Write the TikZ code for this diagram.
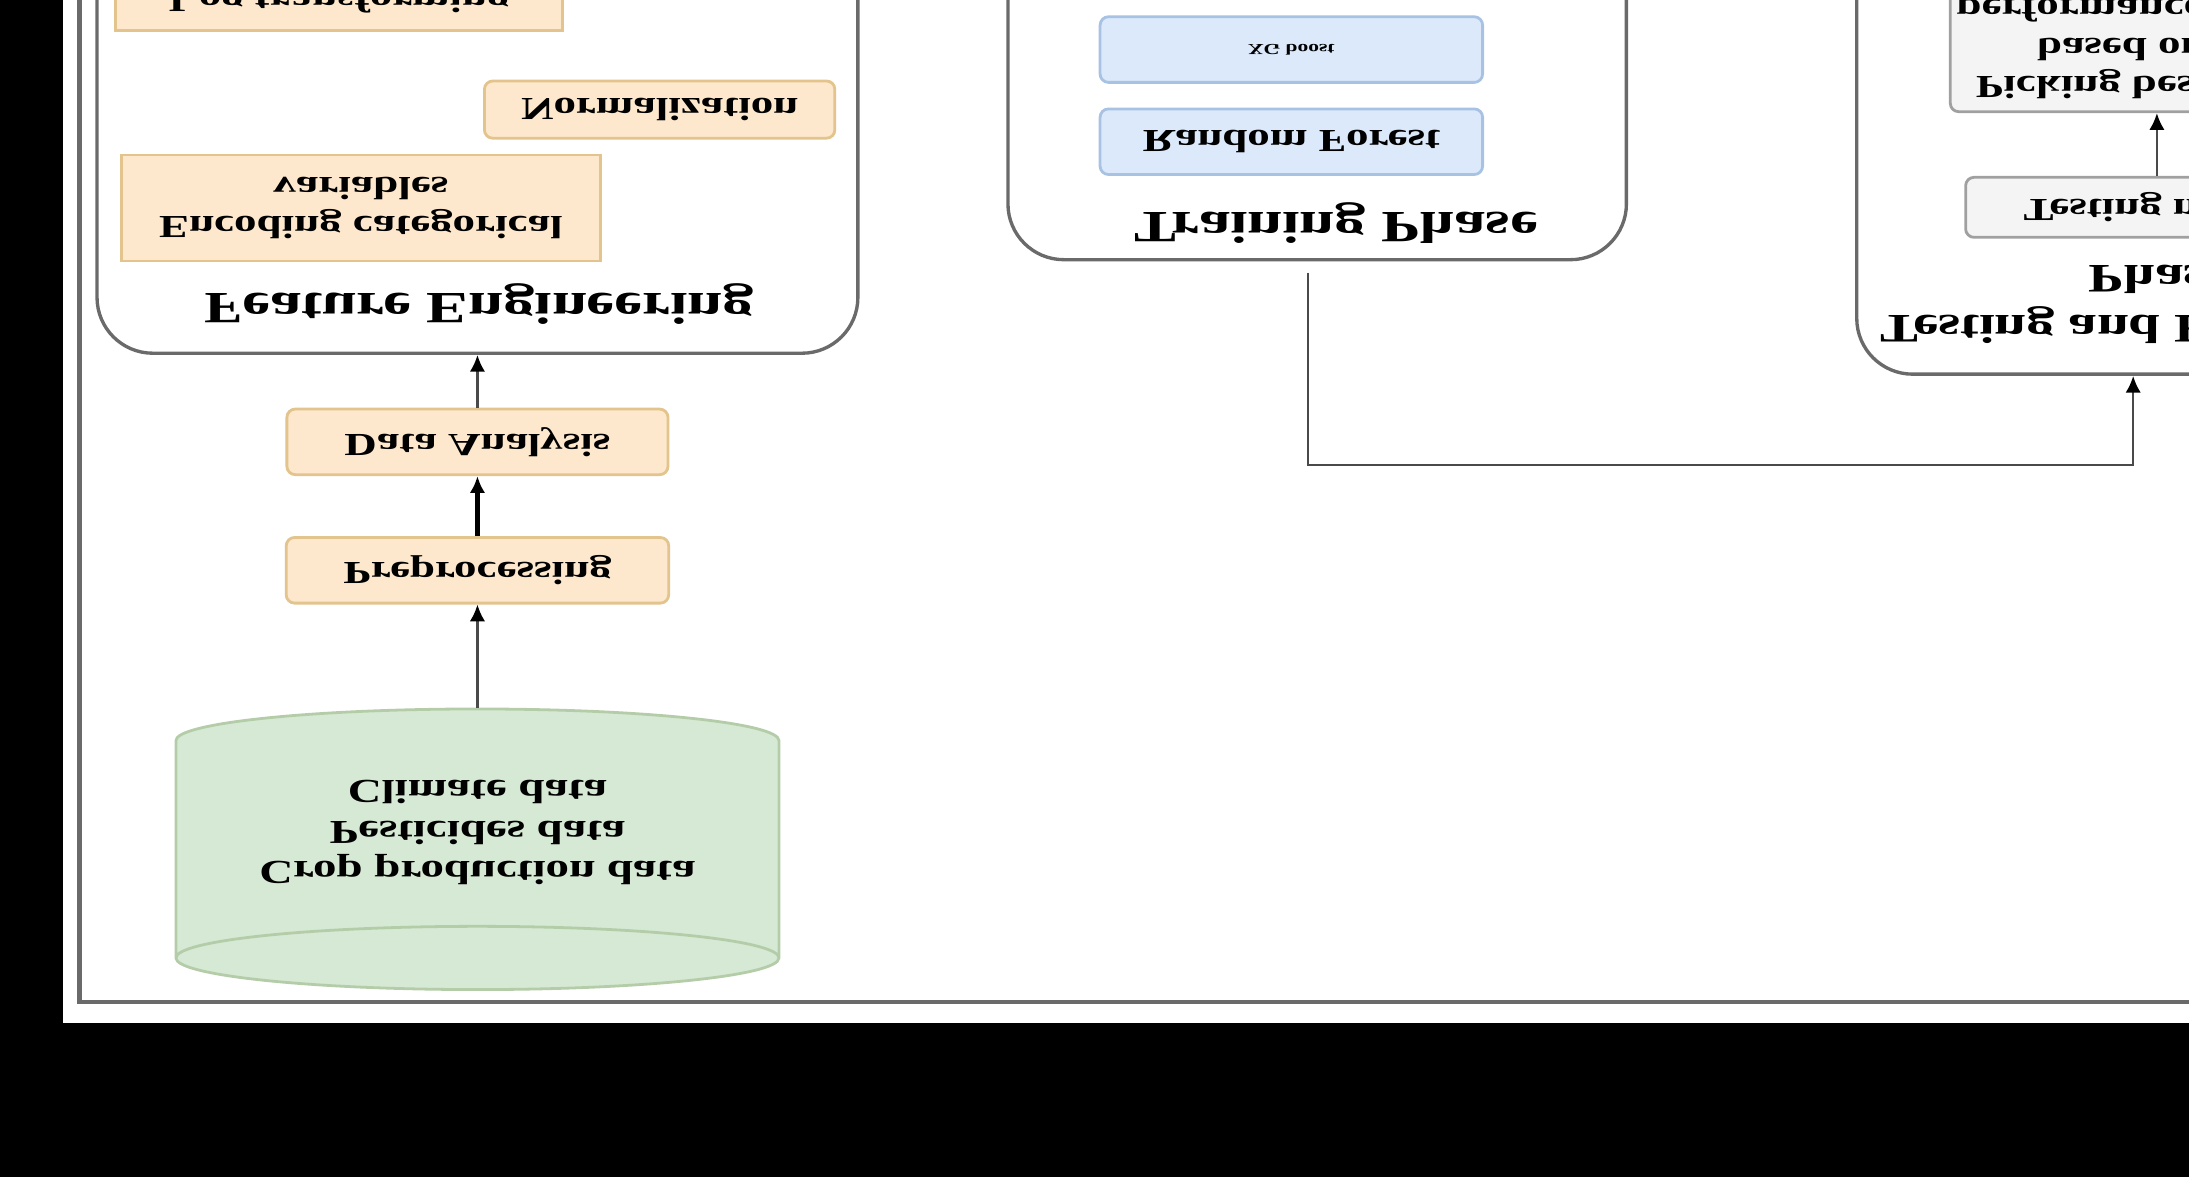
\documentclass[tikz,border=0pt]{standalone}
\usepackage{fontspec}
\setmainfont{Liberation Serif}[FakeStretch=1.4]
\usetikzlibrary{shapes.geometric,arrows.meta}
\definecolor{stagefill}{HTML}{FDE8CD}
\definecolor{stageline}{HTML}{E2C48C}
\definecolor{modelfill}{HTML}{DBE9FB}
\definecolor{modelline}{HTML}{A8C2E4}
\definecolor{datafill}{HTML}{D6E9D4}
\definecolor{dataline}{HTML}{B4CDA8}
\definecolor{evalfill}{HTML}{F4F4F4}
\definecolor{evalline}{HTML}{A0A0A0}
\definecolor{phaseline}{HTML}{6A6A6A}
\definecolor{flowline}{HTML}{4A4A4A}
\tikzset{
  stage/.style   = {shape=rectangle, rounded corners=3pt,
                    draw=stageline, fill=stagefill, line width=1pt,
                    align=center, inner sep=0pt,
                    font=\fontsize{11.5}{13.8}\selectfont\bfseries},
  stagesq/.style = {stage, sharp corners},
  model/.style   = {stage, draw=modelline, fill=modelfill},
  evalbox/.style = {stage, draw=evalline, fill=evalfill},
  phase/.style   = {shape=rectangle, rounded corners=20pt,
                    draw=phaseline, line width=1.2pt},
  phasetitle/.style = {align=center, font=\fontsize{16}{19}\selectfont\bfseries},
  flow/.style    = {draw=flowline, line width=0.9pt,
                    -{Latex[length=6pt,width=5.5pt,color=black]}},
}

\begin{document}
\begin{tikzpicture}[yscale=-1, x=0.5pt, y=0.5pt,
                    every node/.append style={transform shape}]
  \useasboundingbox (0,0) rectangle (1568,843);
  \clip (0,0) rectangle (1568,843);
  \fill[black] (0,0) rectangle (1568,843);
  \fill[white] (45,-5) rectangle (1580,733);
  \draw[phaseline, line width=1.5pt] (57,-10) -- (57,718) -- (1580,718);

  % feature engineering
  \node[phase, minimum width=272.5pt, minimum height=176.5pt] (fe) at (342,76.5) {};
  \node[phasetitle] (fetitle) at (343,218) {Feature Engineering};
  \node[stagesq, minimum width=160pt, minimum height=23.5pt] (log) at (243,-1.5) {Log transforming};
  \node[stage, minimum width=125.5pt, minimum height=20.5pt] (norm) at (472.5,78.5) {Normalization};
  \node[stagesq, minimum width=171.5pt, minimum height=38pt] (enc) at (258.5,149) {Encoding categorical\\variables};

  % data and preparation
  \node[stage, minimum width=136.5pt, minimum height=23.5pt] (da) at (342,316.5) {Data Analysis};
  \node[stage, minimum width=137pt, minimum height=23.5pt] (prep) at (342,408.5) {Preprocessing};
  \node[cylinder, shape border rotate=90, aspect=0.145,
        draw=dataline, fill=datafill, line width=1pt,
        minimum width=216pt, minimum height=100.5pt, inner sep=0pt,
        align=center, font=\fontsize{12}{14.5}\selectfont\bfseries]
        (db) at (342,596.5) {Crop production data\\Pesticides data\\Climate data};

  % training
  \node[phase, minimum width=221.5pt, minimum height=143pt] (train) at (943.5,43) {};
  \node[phasetitle] (trtitle) at (957,160) {Training Phase};
  \node[model, minimum width=137pt, minimum height=23.5pt] (rf) at (925,101.5) {Random Forest};
  \node[model, minimum width=137pt, minimum height=23.5pt,
        font=\fontsize{5.5}{6.6}\selectfont\bfseries] (xgb) at (925,35.5) {XG boost};

  % testing
  \node[phase, minimum width=198pt, minimum height=184pt] (test) at (1528,84) {};
  \node[phasetitle, font=\fontsize{14.5}{18}\selectfont\bfseries] (tetitle) at (1547,218)
        {Testing and Evaluation\\Phase};
  \node[evalbox, minimum width=137pt, minimum height=21.5pt] (testm) at (1545,148.5) {Testing model};
  \node[evalbox, minimum width=148pt, minimum height=47pt] (pick) at (1545,33)
        {Picking best model\\based on the\\performance metrics};

  \draw[flow] (db) -- (prep);
  \draw[flow, line width=1.8pt, draw=black] (prep) -- (da);
  \draw[flow] (da) -- (fe);
  \draw[flow, shorten <=4pt] ([xshift=-3.25pt]train.north) -- ++(0,146) -| (test.north);
  \draw[flow] (testm) -- (pick);
\end{tikzpicture}
\end{document}
